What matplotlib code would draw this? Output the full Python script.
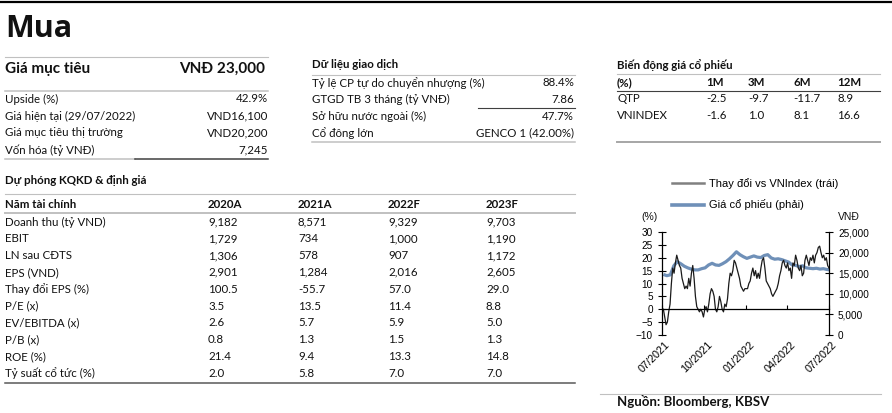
import matplotlib
matplotlib.use("Agg")
import matplotlib.pyplot as plt
import matplotlib.transforms as mtransforms
from matplotlib.lines import Line2D
import pandas as pd

# --- data ---
target_label = "Giá mục tiêu"
target_value = "VNĐ 23,000"
info_labels = ["Upside (%)", "Giá hiện tại (29/07/2022)", "Giá mục tiêu thị trường", "Vốn hóa (tỷ VNĐ)"]
info_values = ["42.9%", "VND16,100", "VND20,200", "7,245"]

trade_labels = ["Tỷ lệ CP tự do chuyển nhượng (%)", "GTGD TB 3 tháng (tỷ VNĐ)",
                "Sở hữu nước ngoài (%)", "Cổ đông lớn"]
trade_values = ["88.4%", "7.86", "47.7%", "GENCO 1 (42.00%)"]

perf_cols = ["1M", "3M", "6M", "12M"]
perf_names = ["QTP", "VNINDEX"]
perf_qtp = [-2.5, -9.7, -11.7, 8.9]
perf_vni = [-1.6, 1.0, 8.1, 16.6]

fc_years = ["2020A", "2021A", "2022F", "2023F"]
fc_items = ["Doanh thu (tỷ VND)", "EBIT", "LN sau CĐTS", "EPS (VND)", "Thay đổi EPS (%)",
            "P/E (x)", "EV/EBITDA (x)", "P/B (x)", "ROE (%)", "Tỷ suất cổ tức (%)"]
doanh_thu = [9182, 8571, 9329, 9703]
ebit = [1729, 734, 1000, 1190]
ln_sau_thue = [1306, 578, 907, 1172]
eps = [2901, 1284, 2016, 2605]
eps_change = [100.5, -55.7, 57.0, 29.0]
pe = [3.5, 13.5, 11.4, 8.8]
ev_ebitda = [2.6, 5.7, 5.9, 5.0]
pb = [0.8, 1.3, 1.5, 1.3]
roe = [21.4, 9.4, 13.3, 14.8]
div_yield = [2.0, 5.8, 7.0, 7.0]
fc_rows = [doanh_thu, ebit, ln_sau_thue, eps, eps_change, pe, ev_ebitda, pb, roe, div_yield]

# relative performance vs VNIndex (%), left axis
rel_vnindex = [0, -3, -6, -5, -1, 2, 10, 16, 14, 18, 21, 19, 17, 16, 12, 10, 8, 9, 8, 12,
               9, 14, 17, 12, 5, 1, 0, -1, 0, -1, -3, 0, 1, -1, 2, 6, 8, 7, 5, 0,
               -1, 1, 5, 3, 0, -1, 2, 1, 4, 10, 14, 13, 15, 19, 18, 16, 14, 12, 9, 8,
               7, 8, 8, 8, 10, 11, 14, 16, 13, 15, 12, 14, 12, 16, 19, 20, 16, 11, 10, 9,
               8, 6, 5, 6, 7, 8, 10, 13, 15, 18, 19, 17, 16, 18, 15, 16, 12, 18, 17, 21,
               19, 16, 15, 17, 13, 14, 19, 21, 19, 17, 20, 19, 21, 18, 21, 22, 24, 24.5, 22, 20,
               21, 19, 20, 17, 16]
# share price (VND), right axis
price = [14700, 14400, 14600, 16800, 17800, 17300, 16700, 16300, 16000, 15800,
         15800, 16100, 16300, 17000, 17400, 17000, 16900, 17300, 17800, 18500,
         19300, 20200, 19500, 19000, 18600, 18900, 19200, 18900, 18800, 19300,
         19500, 18700, 18400, 18500, 18300, 18000, 17700, 17000, 16900, 16600,
         16800, 16300, 16200, 16100, 16200, 16000, 16100, 15900, 15800]
rel_dates = pd.date_range("2021-07-04", "2022-07-01", periods=len(rel_vnindex))
price_dates = pd.date_range("2021-07-04", "2022-07-04", periods=len(price))
tick_dates = pd.to_datetime(["2021-07-01", "2021-10-01", "2022-01-01", "2022-04-01", "2022-07-01"])
tick_labels = ["07/2021", "10/2021", "01/2022", "04/2022", "07/2022"]

W, H = 892, 413
fig = plt.figure(figsize=(W / 100, H / 100), dpi=100)
TF = ["Lato", "Noto Sans", "DejaVu Sans"]
CF = ["Liberation Sans", "DejaVu Sans"]


def fx(px):
    return px / W


def fy(py):
    return 1 - py / H


def txt(x, y, s, size=8.3, bold=False, ha="left", family=TF, va="center"):
    fig.text(fx(x), fy(y), s, ha=ha, va=va, fontsize=size,
             fontweight="bold" if bold else "normal", family=family, color="#111111")


def hline(y, x0, x1, color="#c0c0c0", lw=0.8):
    fig.add_artist(Line2D([fx(x0), fx(x1)], [fy(y), fy(y)], color=color, lw=lw))


# top rule and title
hline(2, 0, 892, color="black", lw=1.6)
txt(5, 37, "Mua", size=22, bold=True, family=["Open Sans", "DejaVu Sans"], va="baseline")

# target price block
hline(57, 5, 268)
txt(5, 69, target_label, size=11, bold=True)
txt(265, 69, target_value, size=11, bold=True, ha="right")
hline(91, 5, 268, lw=1.1)
for i, (lab, val) in enumerate(zip(info_labels, info_values)):
    y = 99 + i * 17
    txt(5, y, lab)
    txt(268, y, val, ha="right")
hline(159, 5, 135, lw=1.1)
hline(159, 135, 268, color="#404040", lw=1.1)

# trading data block
txt(312, 65, "Dữ liệu giao dịch", bold=True)
hline(75, 312, 575)
for i, (lab, val) in enumerate(zip(trade_labels, trade_values)):
    y = 83 + i * 16.7
    txt(312, y, lab)
    txt(574, y, val, ha="right")
hline(108, 478, 575, color="#404040")
hline(142, 312, 575, lw=1.1)

# price performance block
perf_x = [706, 748, 793, 837]
txt(617, 65, "Biến động giá cổ phiếu", bold=True)
hline(74, 617, 880)
txt(617, 83, "(%)", bold=True)
for cx, c in zip(perf_x, perf_cols):
    txt(cx, 83, c, bold=True)
hline(91, 617, 880, color="#404040")
for j, (name, vals) in enumerate(zip(perf_names, [perf_qtp, perf_vni])):
    y = 99 + j * 16.5
    txt(617, y, name)
    for cx, v in zip(perf_x, vals):
        txt(cx, y, f"{v:.1f}")
hline(142, 617, 880, color="#a6a6a6", lw=1.4)

# forecast table
fc_x = [208, 298, 388, 486]
txt(5, 180, "Dự phóng KQKD & định giá", bold=True)
hline(194, 5, 575)
txt(5, 204, "Năm tài chính", bold=True)
for cx, yr in zip(fc_x, fc_years):
    txt(cx, 204, yr, bold=True)
hline(213, 5, 575, lw=1.4)
for i, (item, vals) in enumerate(zip(fc_items, fc_rows)):
    y = 222 + i * 16.8
    txt(5, y, item)
    for cx, v in zip(fc_x, vals):
        s = f"{v:,}" if isinstance(v, int) else f"{v:.1f}"
        txt(cx, y, s)
hline(383, 5, 575, color="#595959", lw=1.1)

# --- chart ---
ax = fig.add_axes([fx(662), fy(335), fx(829) - fx(662), (335 - 232) / H])
ax2 = ax.twinx()
ax2.plot(price_dates, price, color="#6f90b8", lw=2.3, solid_capstyle="butt")
ax.plot(rel_dates, rel_vnindex, color="#1a1a1a", lw=0.9)
ax.set_zorder(ax2.get_zorder() + 1)
ax.patch.set_visible(False)

ax.set_xlim(tick_dates[0], tick_dates[-1])
ax.set_ylim(-10, 30)
ax.set_yticks(range(-10, 31, 5))
ax2.set_ylim(0, 25000)
ax2.set_yticks(range(0, 25001, 5000))
ax2.set_yticklabels([f"{v:,}" for v in range(0, 25001, 5000)])

for s in ["top", "right"]:
    ax.spines[s].set_visible(False)
for s in ["top", "left", "bottom"]:
    ax2.spines[s].set_visible(False)
ax.spines["bottom"].set_position(("data", 0))
ax.spines["left"].set_linewidth(0.9)
ax.spines["bottom"].set_linewidth(0.9)
ax2.spines["right"].set_linewidth(0.9)

ax.set_xticks(tick_dates)
ax.tick_params(axis="x", direction="in", length=3, width=0.8, labelbottom=False)
ax.tick_params(axis="y", direction="inout", length=6, width=0.8, pad=3.5, labelsize=7.2)
ax2.tick_params(axis="y", direction="inout", length=6, width=0.8, pad=3.5, labelsize=7.2)
for lab in ax.get_yticklabels() + ax2.get_yticklabels():
    lab.set_family(CF)

base = mtransforms.blended_transform_factory(ax.transData, ax.transAxes)
lab_tr = mtransforms.offset_copy(base, fig=fig, x=3, y=-5, units="dots")
for d, lab in zip(tick_dates, tick_labels):
    ax.text(d, 0, lab, transform=lab_tr, rotation=45, ha="right", va="top",
            rotation_mode="anchor", fontsize=7.8, family=CF)

txt(649, 217, "(%)", size=7.5, ha="center", family=CF)
txt(838, 217, "VNĐ", size=7.5, family=CF)

handles = [Line2D([], [], color="#808080", lw=1.8), Line2D([], [], color="#6f90b8", lw=2.6)]
fig.legend(handles, ["Thay đổi vs VNIndex (trái)", "Giá cổ phiếu (phải)"],
           loc="upper left", bbox_to_anchor=(fx(672), fy(178)), frameon=False,
           borderpad=0, borderaxespad=0, handlelength=2.9, handletextpad=0.45,
           labelspacing=0.95, prop={"family": CF, "size": 8})

hline(394, 600, 881)
txt(617, 401, "Nguồn: Bloomberg, KBSV", size=9.5, bold=True)

fig.savefig("out.png", dpi=100)
